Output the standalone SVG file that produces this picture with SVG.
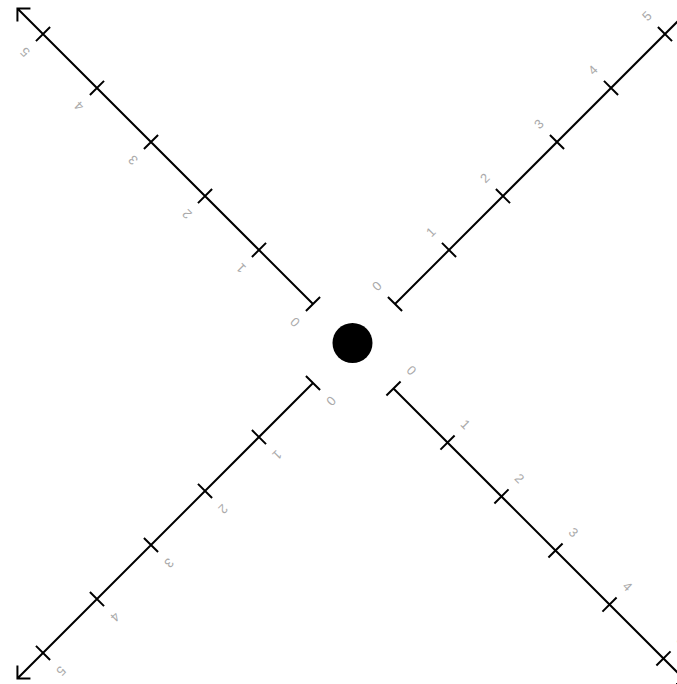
<svg xmlns="http://www.w3.org/2000/svg" width="677" height="684" viewBox="0 0 677 684">
<style>
.ax{stroke:#000;stroke-width:2;fill:none;stroke-linecap:butt}
.lbl{font-family:"Liberation Sans",Arial,sans-serif;font-size:13px;fill:#aaa;text-anchor:middle}
</style>
<rect width="677" height="684" fill="#fff"/>
<g id="axis-nw" transform="translate(313,304) rotate(-135)">
<path class="ax" d="M0,0H418M408.8,-9.2L418,0L408.8,9.2M0,-10V10M76.4,-10V10M152.7,-10V10M229.1,-10V10M305.5,-10V10M381.8,-10V10"/>
<text class="lbl" x="0" y="-21">0</text><text class="lbl" x="76.4" y="-21">1</text><text class="lbl" x="152.7" y="-21">2</text><text class="lbl" x="229.1" y="-21">3</text><text class="lbl" x="305.5" y="-21">4</text><text class="lbl" x="381.8" y="-21">5</text>
</g>
<g id="axis-ne" transform="translate(395,304) rotate(-45)">
<path class="ax" d="M0,0H418M408.8,-9.2L418,0L408.8,9.2M0,-10V10M76.4,-10V10M152.7,-10V10M229.1,-10V10M305.5,-10V10M381.8,-10V10"/>
<text class="lbl" x="0" y="-21">0</text><text class="lbl" x="76.4" y="-21">1</text><text class="lbl" x="152.7" y="-21">2</text><text class="lbl" x="229.1" y="-21">3</text><text class="lbl" x="305.5" y="-21">4</text><text class="lbl" x="381.8" y="-21">5</text>
</g>
<g id="axis-sw" transform="translate(313,383) rotate(135)">
<path class="ax" d="M0,0H418M408.8,-9.2L418,0L408.8,9.2M0,-10V10M76.4,-10V10M152.7,-10V10M229.1,-10V10M305.5,-10V10M381.8,-10V10"/>
<text class="lbl" x="0" y="-21">0</text><text class="lbl" x="76.4" y="-21">1</text><text class="lbl" x="152.7" y="-21">2</text><text class="lbl" x="229.1" y="-21">3</text><text class="lbl" x="305.5" y="-21">4</text><text class="lbl" x="381.8" y="-21">5</text>
</g>
<g id="axis-se" transform="translate(393.5,388.5) rotate(45)">
<path class="ax" d="M0,0H418M408.8,-9.2L418,0L408.8,9.2M0,-10V10M76.4,-10V10M152.7,-10V10M229.1,-10V10M305.5,-10V10M381.8,-10V10"/>
<text class="lbl" x="0" y="-21">0</text><text class="lbl" x="76.4" y="-21">1</text><text class="lbl" x="152.7" y="-21">2</text><text class="lbl" x="229.1" y="-21">3</text><text class="lbl" x="305.5" y="-21">4</text><text class="lbl" x="381.8" y="-21">5</text>
</g>
<g id="center"><circle cx="352.5" cy="343" r="20" fill="#000"/></g>
</svg>
